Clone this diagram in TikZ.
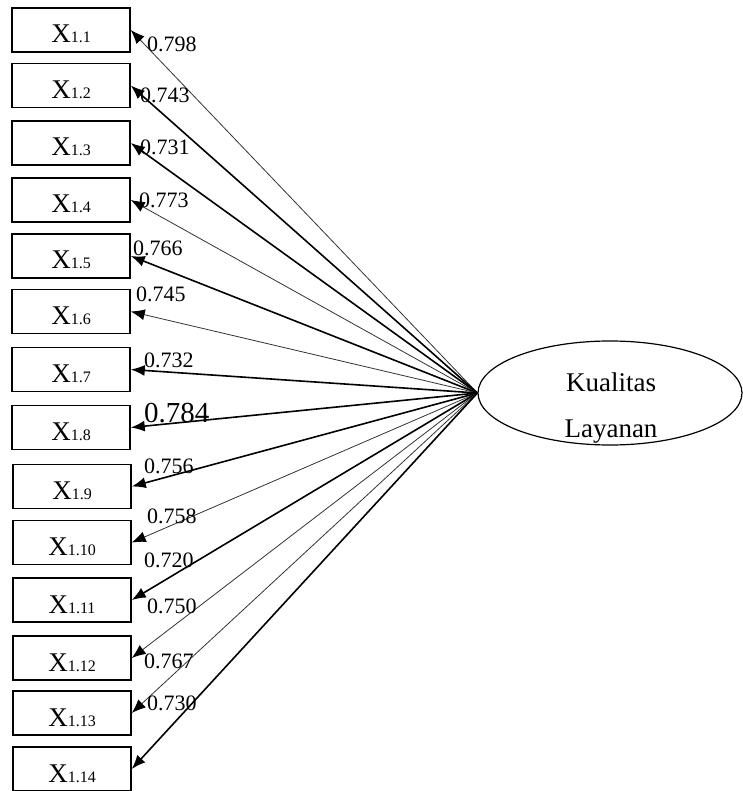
\documentclass[tikz,border=0pt]{standalone}
\usepackage{fontspec}
\setmainfont{Liberation Serif}
\usetikzlibrary{arrows.meta,shapes.geometric}
\tikzset{
  indikator/.style={draw, line width=1.5pt, minimum width=118pt, minimum height=44pt,
    inner sep=0pt, text height=26pt, text depth=0pt, font=\fontsize{27}{27}\selectfont},
  laten/.style={draw, ellipse, line width=1.2pt, minimum width=264pt, minimum height=104pt},
  tebal/.style={line width=1.6pt, -{Latex[length=14pt,width=11pt]}},
  tipis/.style={line width=0.8pt, black!80, -{Latex[length=14pt,width=11pt,black]}},
  muatan/.style={anchor=base west, inner sep=0pt, font=\fontsize{22}{22}\selectfont},
}
\newcommand{\indx}[1]{X{\fontsize{16}{16}\selectfont #1}}
\begin{document}
\begin{tikzpicture}[x=1pt,y=-1pt]
        \useasboundingbox (0,0) rectangle (742,791);
        % indikator
        \node[indikator] (x11) at (71,30) {\indx{1.1}};
        \node[indikator] (x12) at (71,85.5) {\indx{1.2}};
        \node[indikator] (x13) at (71,143) {\indx{1.3}};
        \node[indikator] (x14) at (71,200) {\indx{1.4}};
        \node[indikator] (x15) at (71,256) {\indx{1.5}};
        \node[indikator] (x16) at (71,311.5) {\indx{1.6}};
        \node[indikator] (x17) at (71,369.5) {\indx{1.7}};
        \node[indikator] (x18) at (71,427.5) {\indx{1.8}};
        \node[indikator] (x19) at (72,486.5) {\indx{1.9}};
        \node[indikator] (x110) at (72,542.5) {\indx{1.10}};
        \node[indikator] (x111) at (72,600) {\indx{1.11}};
        \node[indikator] (x112) at (72,658) {\indx{1.12}};
        \node[indikator] (x113) at (72,713) {\indx{1.13}};
        \node[indikator] (x114) at (72,769) {\indx{1.14}};
        % variabel laten
        \node[laten] (kl) at (610,393) {};
        \node[anchor=base, align=center, font=\fontsize{27}{46}\selectfont] (klteks) at (611,437) {Kualitas\\Layanan};
        % panah
        \draw[tipis] (kl.west) -- (x11.east);
        \draw[tebal] (kl.west) -- (x12.east);
        \draw[tebal] (kl.west) -- (x13.east);
        \draw[tipis] (kl.west) -- (x14.east);
        \draw[tebal] (kl.west) -- (x15.east);
        \draw[tipis] (kl.west) -- (x16.east);
        \draw[tebal] (kl.west) -- (x17.east);
        \draw[tebal] (kl.west) -- (x18.east);
        \draw[tebal] (kl.west) -- (x19.east);
        \draw[tipis] (kl.west) -- (x110.east);
        \draw[tebal] (kl.west) -- (x111.east);
        \draw[tipis] (kl.west) -- (x112.east);
        \draw[tipis] (kl.west) -- (x113.east);
        \draw[tebal] (kl.west) -- (x114.east);
        % loading
        \node[muatan] (m1) at (147,52) {0.798};
        \node[muatan] (m2) at (140,103) {0.743};
        \node[muatan] (m3) at (140,155) {0.731};
        \node[muatan] (m4) at (139,208) {0.773};
        \node[muatan] (m5) at (133,255) {0.766};
        \node[muatan] (m6) at (136,301) {0.745};
        \node[muatan] (m7) at (144,367) {0.732};
        \node[muatan, font=\fontsize{29}{29}\selectfont] (m8) at (144,422) {0.784};
        \node[muatan] (m9) at (144,473) {0.756};
        \node[muatan] (m10) at (147,523) {0.758};
        \node[muatan] (m11) at (144,567) {0.720};
        \node[muatan] (m12) at (147,613) {0.750};
        \node[muatan] (m13) at (144,668) {0.767};
        \node[muatan] (m14) at (147,710) {0.730};
\end{tikzpicture}
\end{document}
